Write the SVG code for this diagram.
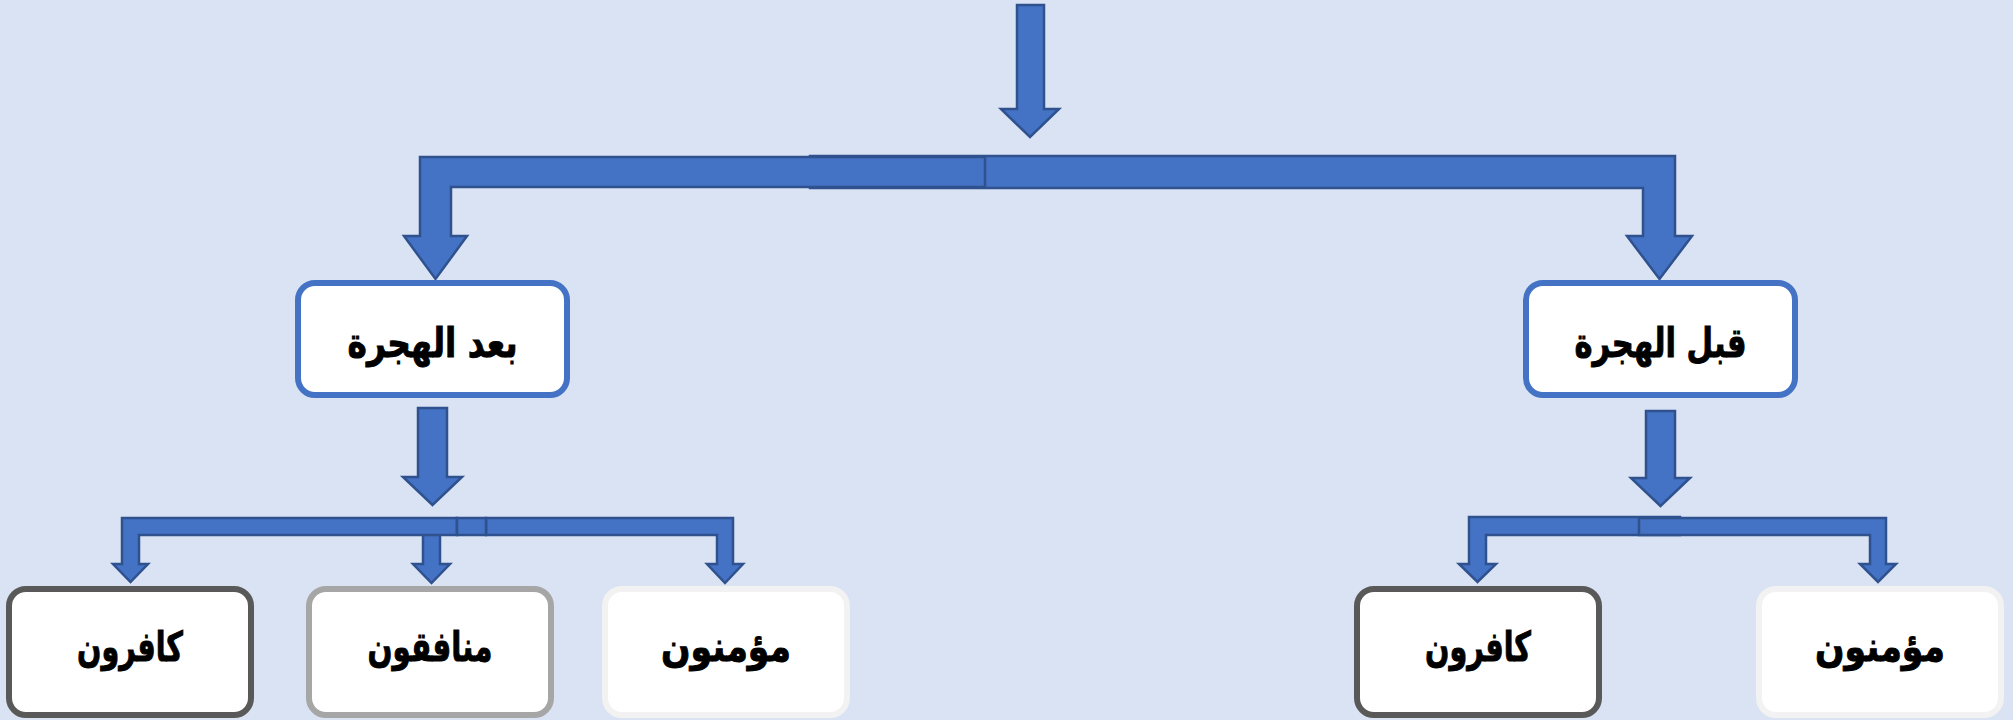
<svg xmlns="http://www.w3.org/2000/svg" width="2013" height="720" viewBox="0 0 2013 720">
<style>
.arr{fill:#4472C4;stroke:#2F528F;stroke-width:2.5;stroke-linejoin:miter}
.box{fill:#FFFFFF;stroke-width:6}
.top{stroke:#4472C4}
.dark{stroke:#595959}
.mid{stroke:#A6A6A6}
.light{stroke:#F2F2F2}
.lbl{font-family:"DejaVu Sans",sans-serif;font-weight:bold;font-size:41px;fill:#000000;stroke:#000000;stroke-width:1;text-anchor:middle;direction:rtl}
</style>
<rect x="0" y="0" width="2013" height="720" fill="#DAE3F3"/>
<g id="connectors">
<polygon class="arr" points="1017,5 1044,5 1044,109 1059,109 1030,137 1001,109 1017,109"/>
<polygon class="arr" points="810,156 1675,156 1675,236 1692,236 1659.5,279 1627,236 1643,236 1643,188 810,188"/>
<polygon class="arr" points="985,157 420,157 420,236 404,236 435.5,279 467,236 451,236 451,187 985,187"/>
<polygon class="arr" points="418,408 447,408 447,477 462,477 432.5,505 403,477 418,477"/>
<polygon class="arr" points="423,530 440,530 440,564 450,564 431.5,583 413,564 423,564"/>
<polygon class="arr" points="486,518 733,518 733,564 743,564 725,583 707,564 717,564 717,535 486,535"/>
<polygon class="arr" points="457,518 122,518 122,564 113,564 130.5,582 148,564 139,564 139,535 457,535"/>
<rect class="arr" x="457" y="518" width="29" height="17"/>
<polygon class="arr" points="1646,411 1675,411 1675,478 1690,478 1660.5,506 1631,478 1646,478"/>
<polygon class="arr" points="1680,517 1469,517 1469,564 1459,564 1477.5,582 1496,564 1486,564 1486,535 1680,535"/>
<polygon class="arr" points="1639,518 1886,518 1886,564 1896,564 1878,582 1860,564 1870,564 1870,535 1639,535"/>
</g>
<g id="node-after">
<rect class="box top" x="298" y="283" width="269" height="112" rx="17"/>
<text class="lbl" x="432.5" y="357" textLength="170" lengthAdjust="spacingAndGlyphs">بعد الهجرة</text>
</g>
<g id="node-before">
<rect class="box top" x="1526" y="283" width="269" height="112" rx="17"/>
<text class="lbl" x="1660.5" y="357" textLength="172" lengthAdjust="spacingAndGlyphs">قبل الهجرة</text>
</g>
<g id="node-after-kafirun">
<rect class="box dark" x="9" y="589" width="242" height="126" rx="17"/>
<text class="lbl" x="130" y="661" textLength="106" lengthAdjust="spacingAndGlyphs">كافرون</text>
</g>
<g id="node-after-munafiqun">
<rect class="box mid" x="309" y="589" width="242" height="126" rx="17"/>
<text class="lbl" x="430" y="661" textLength="125" lengthAdjust="spacingAndGlyphs">منافقون</text>
</g>
<g id="node-after-muminun">
<rect class="box light" x="605" y="589" width="242" height="126" rx="17"/>
<text class="lbl" x="726" y="661" textLength="130" lengthAdjust="spacingAndGlyphs">مؤمنون</text>
</g>
<g id="node-before-kafirun">
<rect class="box dark" x="1357" y="589" width="242" height="126" rx="17"/>
<text class="lbl" x="1478" y="661" textLength="106" lengthAdjust="spacingAndGlyphs">كافرون</text>
</g>
<g id="node-before-muminun">
<rect class="box light" x="1759" y="589" width="242" height="126" rx="17"/>
<text class="lbl" x="1880" y="661" textLength="130" lengthAdjust="spacingAndGlyphs">مؤمنون</text>
</g>
</svg>
